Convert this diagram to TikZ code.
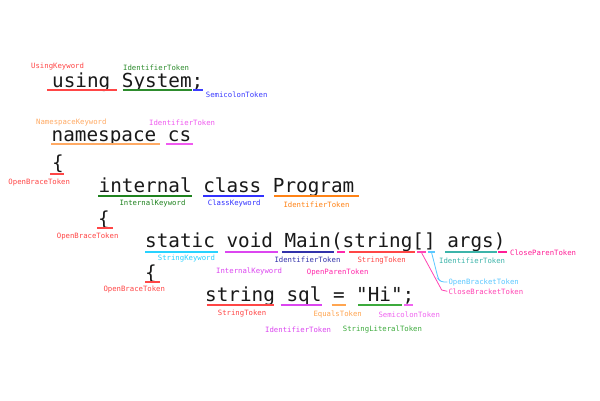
\documentclass[tikz,border=0pt]{standalone}
\usepackage{fontspec}
\newfontfamily\codefont{DejaVu Sans Mono}
\newfontfamily\labfont{DejaVu Sans Mono}
\definecolor{cRed}{RGB}{255,70,70}
\definecolor{cIdGreen}{RGB}{45,140,45}
\definecolor{cSemBlue}{RGB}{60,60,255}
\definecolor{cNsOrange}{RGB}{255,170,100}
\definecolor{cCsPink}{RGB}{240,90,240}
\definecolor{cIntGreen}{RGB}{30,130,30}
\definecolor{cClassBlue}{RGB}{50,50,255}
\definecolor{cProgOrange}{RGB}{255,130,20}
\definecolor{cStrKw}{RGB}{40,210,255}
\definecolor{cVoidMag}{RGB}{220,70,240}
\definecolor{cMainBlue}{RGB}{50,50,170}
\definecolor{cParen}{RGB}{255,40,170}
\definecolor{cObrk}{RGB}{90,200,255}
\definecolor{cCbrk}{RGB}{255,70,180}
\definecolor{cArgs}{RGB}{60,180,170}
\definecolor{cCparen}{RGB}{255,30,150}
\definecolor{cEq}{RGB}{255,165,80}
\definecolor{cLit}{RGB}{60,170,60}
\definecolor{cSemi}{RGB}{240,100,240}
\tikzset{
  code/.style={anchor=base west,inner sep=0pt,text=black!90,font=\codefont\fontsize{19.3}{20}\selectfont},
  lab/.style={anchor=west,inner sep=0pt,font=\labfont\fontsize{7.3}{8}\selectfont},
  uline/.style={line width=2pt},
  leader/.style={line width=0.8pt}
}
\begin{document}
\begin{tikzpicture}[x=1pt,y=-1pt]
\useasboundingbox[fill=white] (0,0) rectangle (600,400);
% code lines
\node[code] (l1) at (52,87) {using System;};
\node[code] (l2) at (51.5,141) {namespace cs};
\node[code] (l3) at (52,169) {\{};
\node[code] (l4) at (98.5,192.7) {internal class Program};
\node[code] (l5) at (98,225) {\{};
\node[code] (l6) at (145,247.7) {static void Main(string[] args)};
\node[code] (l7) at (145,279) {\{};
\node[code] (l8) at (205,301.7) {string sql = "Hi";};
% underlines line 1
\draw[uline,draw=cRed] (47,90) -- (117,90);
\draw[uline,draw=cIdGreen] (122.7,90) -- (191.7,90);
\draw[uline,draw=cSemBlue] (193,90) -- (203,90);
% line 2
\draw[uline,draw=cNsOrange] (51,144) -- (160,144);
\draw[uline,draw=cCsPink] (166,144) -- (192.7,144);
% line 3
\draw[uline,draw=cRed] (50,174) -- (64,174);
% line 4
\draw[uline,draw=cIntGreen] (98.3,196) -- (191.7,196);
\draw[uline,draw=cClassBlue] (203.3,196) -- (264,196);
\draw[uline,draw=cProgOrange] (274.3,196) -- (359.3,196);
% line 5
\draw[uline,draw=cRed] (97.3,228) -- (112.7,228);
% line 6
\draw[uline,draw=cStrKw] (145,252) -- (218.3,252);
\draw[uline,draw=cVoidMag] (225,252) -- (277.7,252);
\draw[uline,draw=cMainBlue] (282.3,252) -- (334,252);
\draw[uline,draw=cParen] (337.3,252) -- (345,252);
\draw[uline,draw=cRed] (349,252) -- (415,252);
\draw[uline,draw=cCbrk] (417.3,252) -- (426,252);
\draw[uline,draw=cObrk] (428.3,252) -- (435,252);
\draw[uline,draw=cArgs] (445,252) -- (496.7,252);
\draw[uline,draw=cCparen] (498.3,252) -- (506.7,252);
% line 7
\draw[uline,draw=cRed] (145,282) -- (160,282);
% line 8
\draw[uline,draw=cRed] (206.7,305) -- (274,305);
\draw[uline,draw=cVoidMag] (280.7,305) -- (321.7,305);
\draw[uline,draw=cEq] (331.7,305) -- (346,305);
\draw[uline,draw=cLit] (358.3,305) -- (401.7,305);
\draw[uline,draw=cSemi] (404.3,305) -- (413.3,305);
% labels
\node[lab,text=cRed] (t1) at (31,66.7) {UsingKeyword};
\node[lab,text=cIdGreen] (t2) at (123,67.7) {IdentifierToken};
\node[lab,text=cSemBlue] (t3) at (205.7,94.3) {SemicolonToken};
\node[lab,text=cNsOrange] (t4) at (36,122.3) {NamespaceKeyword};
\node[lab,text=cCsPink] (t5) at (149,122.7) {IdentifierToken};
\node[lab,text=cRed] (t6) at (8.3,182) {OpenBraceToken};
\node[lab,text=cIntGreen] (t7) at (119.3,203.3) {InternalKeyword};
\node[lab,text=cClassBlue] (t8) at (207.7,203.3) {ClassKeyword};
\node[lab,text=cProgOrange] (t9) at (283.3,204.7) {IdentifierToken};
\node[lab,text=cRed] (t10) at (56.7,236) {OpenBraceToken};
\node[lab,text=cStrKw] (t11) at (157.7,259) {StringKeyword};
\node[lab,text=cVoidMag] (t12) at (216,271.7) {InternalKeyword};
\node[lab,text=cMainBlue] (t13) at (274.3,259.7) {IdentifierToken};
\node[lab,text=cParen] (t14) at (306.7,272.7) {OpenParenToken};
\node[lab,text=cRed] (t15) at (357.3,260.7) {StringToken};
\node[lab,text=cArgs] (t16) at (439,260.7) {IdentifierToken};
\node[lab,text=cCparen] (t17) at (510,252.3) {CloseParenToken};
\node[lab,text=cObrk] (t18) at (448.3,282) {OpenBracketToken};
\node[lab,text=cCbrk] (t19) at (448.3,291.3) {CloseBracketToken};
\node[lab,text=cRed] (t20) at (103.3,289) {OpenBraceToken};
\node[lab,text=cRed] (t21) at (217.7,314) {StringToken};
\node[lab,text=cVoidMag] (t22) at (265,329.3) {IdentifierToken};
\node[lab,text=cEq] (t23) at (313.3,314) {EqualsToken};
\node[lab,text=cSemi] (t24) at (378.3,314.7) {SemicolonToken};
\node[lab,text=cLit] (t25) at (342.7,329.3) {StringLiteralToken};
% leader lines
\coordinate (cb) at (421.7,253);
\coordinate (ob) at (431.7,253);
\draw[leader,draw=cCbrk] (cb) -- (441.7,290) -- ([xshift=-1pt]t19.west);
\draw[leader,draw=cObrk,rounded corners=3pt] (ob) -- (438.3,279) -- (441,282) -- ([xshift=-1pt]t18.west);
\end{tikzpicture}
\end{document}
